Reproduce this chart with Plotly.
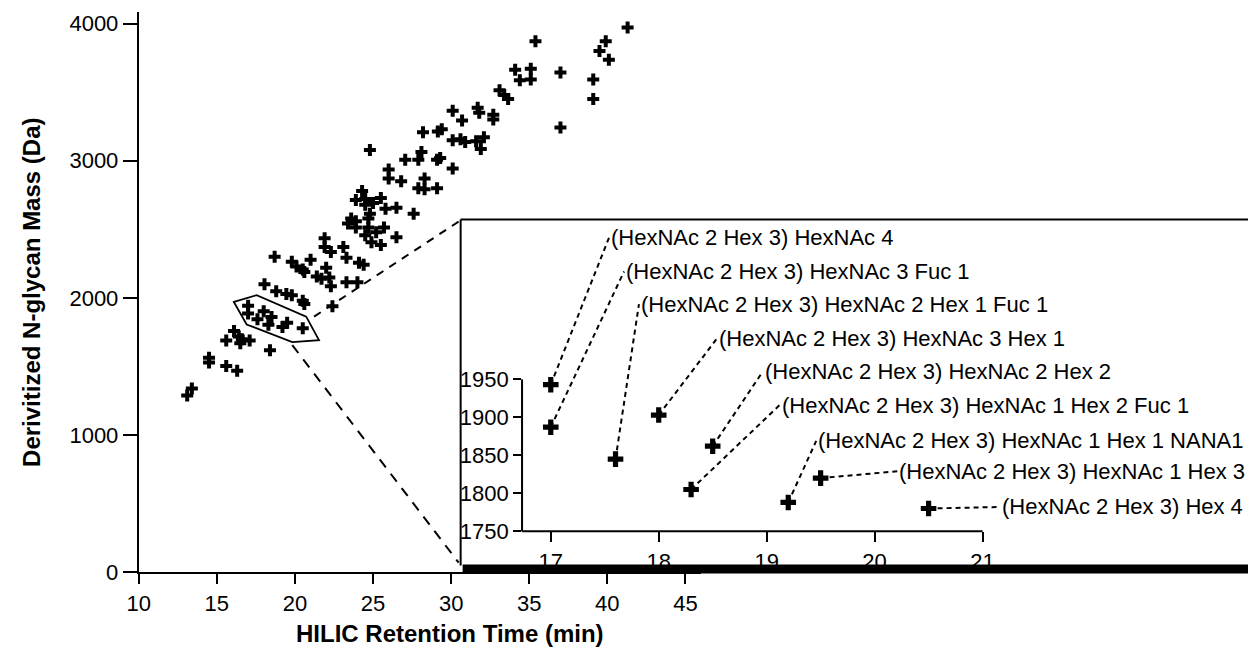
import plotly.graph_objects as go

# ---------------- data ----------------
# main scatter: HILIC retention time (min) vs derivitized N-glycan mass (Da)
rt_min = [13.1, 13.4, 14.5, 14.5, 15.6, 16.3, 15.6, 16.1, 16.4, 16.6, 16.5, 17.1, 18.4,
          17.0, 17.0, 17.6, 18.0, 18.3, 18.5, 19.2, 19.5, 20.5,
          18.05, 18.8, 19.45, 19.8, 20.5, 20.6, 22.4,
          18.7, 19.8, 20.1, 20.5, 21.0, 20.6,
          21.4, 21.7, 22.2, 22.3, 22.0,
          21.9, 21.9, 22.3, 23.1, 23.3, 24.1, 24.4, 23.3, 24.0,
          23.6, 23.4, 23.9, 23.9, 24.7, 24.7, 24.5, 25.2, 25.7, 24.9, 25.5, 26.5,
          23.9, 24.5, 25.0, 25.5, 25.8, 26.5, 27.6, 24.8, 24.3, 24.5,
          24.8, 26.0, 26.0, 26.8, 27.06, 27.9, 28.1, 28.3, 27.9, 28.3, 29.1, 29.1, 29.3, 30.1,
          28.2, 29.15, 29.4, 30.1, 30.1, 30.6, 30.9, 31.6, 32.1, 31.9, 30.7, 31.7, 31.8, 32.7, 32.7,
          33.1, 33.4, 33.65, 34.1, 35.1, 34.4, 35.1, 35.4,
          37.0, 37.0, 39.1, 39.1, 39.5, 39.9, 40.1, 41.3]
mass_da = [1290, 1340, 1565, 1530, 1505, 1470, 1690, 1760, 1720, 1700, 1670, 1690, 1620,
           1943, 1887, 1845, 1903, 1805, 1862, 1788, 1820, 1780,
           2100, 2050, 2029, 2020, 1979, 1957, 1940,
           2300, 2264, 2229, 2207, 2279, 2190,
           2157, 2140, 2150, 2086, 2221,
           2436, 2371, 2336, 2371, 2293, 2257, 2243, 2114, 2114,
           2579, 2543, 2560, 2514, 2579, 2514, 2457, 2479, 2514, 2407, 2386, 2443,
           2714, 2721, 2693, 2729, 2650, 2657, 2614, 2614, 2779, 2680,
           3078, 2936, 2871, 2850, 3007, 3007, 3064, 2871, 2800, 2793, 2800, 3007, 3020, 2943,
           3207, 3214, 3230, 3150, 3364, 3157, 3136, 3143, 3171, 3086, 3293, 3386, 3350, 3336, 3300,
           3514, 3479, 3450, 3664, 3671, 3586, 3593, 3871,
           3643, 3243, 3593, 3450, 3800, 3871, 3736, 3971]

# inset (zoomed cluster)
inset_rt = [17.0, 17.0, 17.6, 18.0, 18.5, 18.3, 19.2, 19.5, 20.5]
inset_mass = [1943, 1887, 1845, 1903, 1862, 1805, 1788, 1820, 1780]
inset_labels = [
    "(HexNAc 2 Hex 3) HexNAc 4",
    "(HexNAc 2 Hex 3) HexNAc 3 Fuc 1",
    "(HexNAc 2 Hex 3) HexNAc 2 Hex 1 Fuc 1",
    "(HexNAc 2 Hex 3) HexNAc 3 Hex 1",
    "(HexNAc 2 Hex 3) HexNAc 2 Hex 2",
    "(HexNAc 2 Hex 3) HexNAc 1 Hex 2 Fuc 1",
    "(HexNAc 2 Hex 3) HexNAc 1 Hex 1 NANA1",
    "(HexNAc 2 Hex 3) HexNAc 1 Hex 3",
    "(HexNAc 2 Hex 3) Hex 4",
]

main_xticks = [10, 15, 20, 25, 30, 35, 40, 45]
main_yticks = [0, 1000, 2000, 3000, 4000]
inset_xticks = [17, 18, 19, 20, 21]
inset_yticks = [1750, 1800, 1850, 1900, 1950]

# ---------------- layout helpers (pixel -> paper) ----------------
W, H = 1248, 658
def px(x):
    return x / W
def py(y):
    return 1 - y / H

FONT = "Liberation Sans, Arial, Helvetica, sans-serif"

# label anchor positions in inset data coords (layout)
label_pos = [(17.541, 2137), (17.679, 2092), (17.817, 2049), (18.541, 2004),
             (18.963, 1960), (19.119, 1916), (19.459, 1869), (20.21, 1829),
             (21.165, 1782)]

fig = go.Figure()
fig.add_trace(go.Scatter(x=rt_min, y=mass_da, mode="markers",
                         marker=dict(symbol="cross", size=10, color="black",
                                     line=dict(width=0)),
                         xaxis="x", yaxis="y", hoverinfo="skip"))
fig.add_trace(go.Scatter(x=inset_rt, y=inset_mass, mode="markers",
                         marker=dict(symbol="cross", size=13, color="black",
                                     line=dict(width=0)),
                         xaxis="x2", yaxis="y2", hoverinfo="skip", cliponaxis=False))

shapes = []
annotations = []

# leader lines and labels in inset
for (lx, ly), x0, y0, txt in zip(label_pos, inset_rt, inset_mass, inset_labels):
    shapes.append(dict(type="line", xref="x2", yref="y2", x0=x0, y0=y0, x1=lx, y1=ly,
                       line=dict(color="black", width=2, dash="5px,4px"), layer="below"))
    annotations.append(dict(xref="x2", yref="y2", x=lx, y=ly, text=txt, showarrow=False,
                            xanchor="left", yanchor="middle",
                            font=dict(family=FONT, size=22, color="black")))

# inset axis lines
shapes.append(dict(type="line", xref="paper", yref="paper", x0=px(515), x1=px(515),
                   y0=py(387), y1=py(542), line=dict(color="black", width=2)))
shapes.append(dict(type="line", xref="paper", yref="paper", x0=px(515), x1=px(980),
                   y0=py(542), y1=py(542), line=dict(color="black", width=2)))

# inset frame
shapes.append(dict(type="line", xref="paper", yref="paper", x0=px(453), x1=px(1250),
                   y0=py(224), y1=py(224), line=dict(color="black", width=2)))
shapes.append(dict(type="line", xref="paper", yref="paper", x0=px(453), x1=px(453),
                   y0=py(224), y1=py(577), line=dict(color="black", width=2)))
shapes.append(dict(type="rect", xref="paper", yref="paper", x0=px(455), x1=px(1250),
                   y0=py(585), y1=py(576), fillcolor="black", line=dict(width=0)))

# zoom polygon around cluster (main data coords)
poly_x = [16.09, 17.55, 20.72, 21.54, 19.83, 16.91]
poly_y = [1971, 2021, 1864, 1693, 1679, 1807]
path = "M " + " L ".join(f"{a},{b}" for a, b in zip(poly_x, poly_y)) + " Z"
shapes.append(dict(type="path", xref="x", yref="y", path=path,
                   line=dict(color="black", width=1.8)))

# connector dashed lines
shapes.append(dict(type="line", xref="paper", yref="paper", x0=px(305), y0=py(323),
                   x1=px(451), y1=py(226), line=dict(color="black", width=2, dash="8px,7px")))
shapes.append(dict(type="line", xref="paper", yref="paper", x0=px(283), y0=py(352),
                   x1=px(451), y1=py(574), line=dict(color="black", width=2, dash="10px,8px")))

# axis titles
annotations.append(dict(xref="paper", yref="paper", x=px(442), y=py(646),
                        text="<b>HILIC Retention Time (min)</b>", showarrow=False,
                        xanchor="center", yanchor="middle",
                        font=dict(family=FONT, size=24, color="black")))
annotations.append(dict(xref="paper", yref="paper", x=px(19), y=py(298),
                        text="<b>Derivitized N-glycan Mass (Da)</b>", showarrow=False,
                        textangle=-90, xanchor="center", yanchor="middle",
                        font=dict(family=FONT, size=24, color="black")))

axis_common = dict(showgrid=False, zeroline=False, ticks="outside", tickcolor="black",
                   tickwidth=2, tickfont=dict(family=FONT, size=22, color="black"),
                   linecolor="black")

fig.update_layout(
    width=W, height=H, margin=dict(l=0, r=0, t=0, b=0),
    paper_bgcolor="white", plot_bgcolor="rgba(0,0,0,0)", showlegend=False,
    xaxis=dict(domain=[px(128), px(695.7)], range=[10, 46], anchor="y",
               showline=True, linewidth=2, ticklen=10,
               tickvals=main_xticks, ticktext=[str(v) for v in main_xticks], **axis_common),
    yaxis=dict(domain=[py(584), py(12)], range=[0, 4085.7], anchor="x",
               showline=True, linewidth=2, ticklen=14,
               tickvals=main_yticks, ticktext=[str(v) for v in main_yticks], **axis_common),
    xaxis2=dict(domain=[px(515), 1.0], range=[16.734, 23.459], anchor="y2",
                showline=False, ticklen=10,
                tickvals=inset_xticks, ticktext=[str(v) for v in inset_xticks], **axis_common),
    yaxis2=dict(domain=[py(542), py(230)], range=[1750, 2152.6], anchor="x2",
                showline=False, ticklen=8,
                tickvals=inset_yticks, ticktext=[str(v) for v in inset_yticks], **axis_common),
    shapes=shapes, annotations=annotations,
)

fig.write_html("out.html", config={"displayModeBar": False},
               post_script="document.body.style.margin='0px';document.body.style.overflow='hidden';")
